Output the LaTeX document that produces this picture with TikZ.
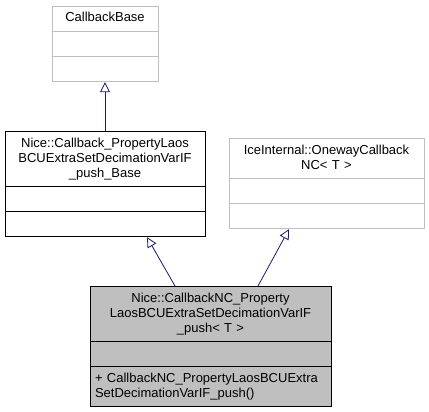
\documentclass[tikz,border=0pt]{standalone}
\usepackage{fontspec}
\setmainfont{Liberation Sans}
\usetikzlibrary{shapes,arrows.meta,positioning}

\tikzset{
  umlclass/.style={rectangle split, rectangle split parts=3, draw, line width=0.9pt,
    inner xsep=5pt, inner ysep=4.6pt, align=center, anchor=north,
    font=\fontsize{13}{15}\selectfont},
  extclass/.style={umlclass, draw=black!25},
  inherit/.style={draw={rgb,255:red,25;green,25;blue,112}, line width=0.8pt,
    -{Triangle[open,length=10pt,width=10pt]}}
}

\begin{document}
\begin{tikzpicture}[x=1pt,y=-1pt]
  \useasboundingbox (0,0) rectangle (429,412);

  \node[extclass, text width=96pt] (cbbase) at (105,6)
    {\strut CallbackBase \nodepart{two}\strut \nodepart{three}\strut};
  \node[umlclass, text width=190pt] (pushbase) at (105,131)
    {\strut Nice::Callback\_PropertyLaos\\BCUExtraSetDecimationVarIF\\\_push\_Base\strut
     \nodepart{two}\strut \nodepart{three}\strut};
  \node[extclass, text width=185pt] (oneway) at (326.5,138)
    {\strut IceInternal::OnewayCallback\\NC< T >\strut
     \nodepart{two}\strut \nodepart{three}\strut};
  \node[umlclass, text width=231pt, rectangle split part fill={black!25}] (pushnc) at (210.5,286)
    {\strut Nice::CallbackNC\_Property\\LaosBCUExtraSetDecimationVarIF\\\_push< T >\strut
     \nodepart{two}\strut
     \nodepart[align=left]{three}\raggedright\strut + CallbackNC\_PropertyLaosBCUExtra\\SetDecimationVarIF\_push()\strut};

  \draw[inherit] (pushbase.north) -- (cbbase.south);
  \draw[inherit] ([xshift=-35.5pt]pushnc.north) -- ([xshift=42pt]pushbase.south);
  \draw[inherit] ([xshift=47.5pt]pushnc.north) -- ([xshift=-37.5pt]oneway.south);

\end{tikzpicture}
\end{document}
